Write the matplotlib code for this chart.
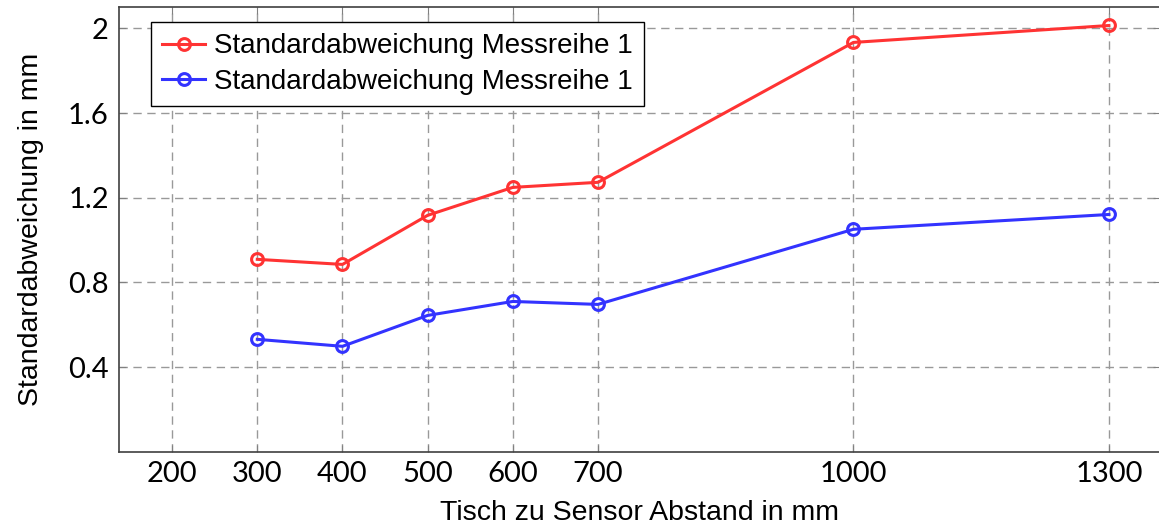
import matplotlib.pyplot as plt

abstand = [300, 400, 500, 600, 700, 1000, 1300]
std_rot = [0.909, 0.885, 1.117, 1.249, 1.273, 1.934, 2.014]
std_blau = [0.531, 0.498, 0.644, 0.710, 0.696, 1.051, 1.121]
x_ticks = [200, 300, 400, 500, 600, 700, 1000, 1300]
y_ticks = [0.4, 0.8, 1.2, 1.6, 2.0]
y_tick_labels = ["0.4", "0.8", "1.2", "1.6", "2"]
label = "Standardabweichung Messreihe 1"

fig = plt.figure(figsize=(11.59, 5.28), dpi=100)
ax = fig.add_axes([118.5 / 1159, 76.3 / 528, (1160 - 118.5) / 1159, 444.4 / 528])

ax.plot(abstand, std_rot, color="#ff3333", lw=2.2, marker="o", ms=8.5,
        mfc="none", mew=2.2, label=label, zorder=3)
ax.plot(abstand, std_blau, color="#3333ff", lw=2.2, marker="o", ms=8.5,
        mfc="none", mew=2.2, label=label, zorder=3)

ax.set_xlim(137, 1360)
ax.set_ylim(0, 2.1)
ax.set_xticks(x_ticks)
ax.set_yticks(y_ticks)
tick_font = {"family": "Lato", "weight": "normal", "size": 21}
ax.set_xticklabels([str(v) for v in x_ticks], **tick_font)
ax.set_yticklabels(y_tick_labels, **tick_font)
ax.tick_params(direction="in", top=True, right=True, color="0.5", length=5, pad=7)

ax.grid(True, color="0.6", lw=1, linestyle=(0, (6, 4)))
for s in ax.spines.values():
    s.set_color("0.25")
    s.set_linewidth(1.2)

ax.set_xlabel("Tisch zu Sensor Abstand in mm", family="Liberation Sans", fontsize=20.5, labelpad=9)
ax.set_ylabel("Standardabweichung in mm", family="Liberation Sans", fontsize=20.5, labelpad=17)

leg = ax.legend(loc="upper left", bbox_to_anchor=(0.0309, 0.9676), borderaxespad=0,
                prop={"family": "Liberation Sans", "size": 20}, fancybox=False,
                framealpha=1, edgecolor="black", handlelength=1.55, handletextpad=0.3,
                labelspacing=0.33, borderpad=0.42)
leg.get_frame().set_linewidth(1.0)

fig.savefig("out.png", dpi=100)
